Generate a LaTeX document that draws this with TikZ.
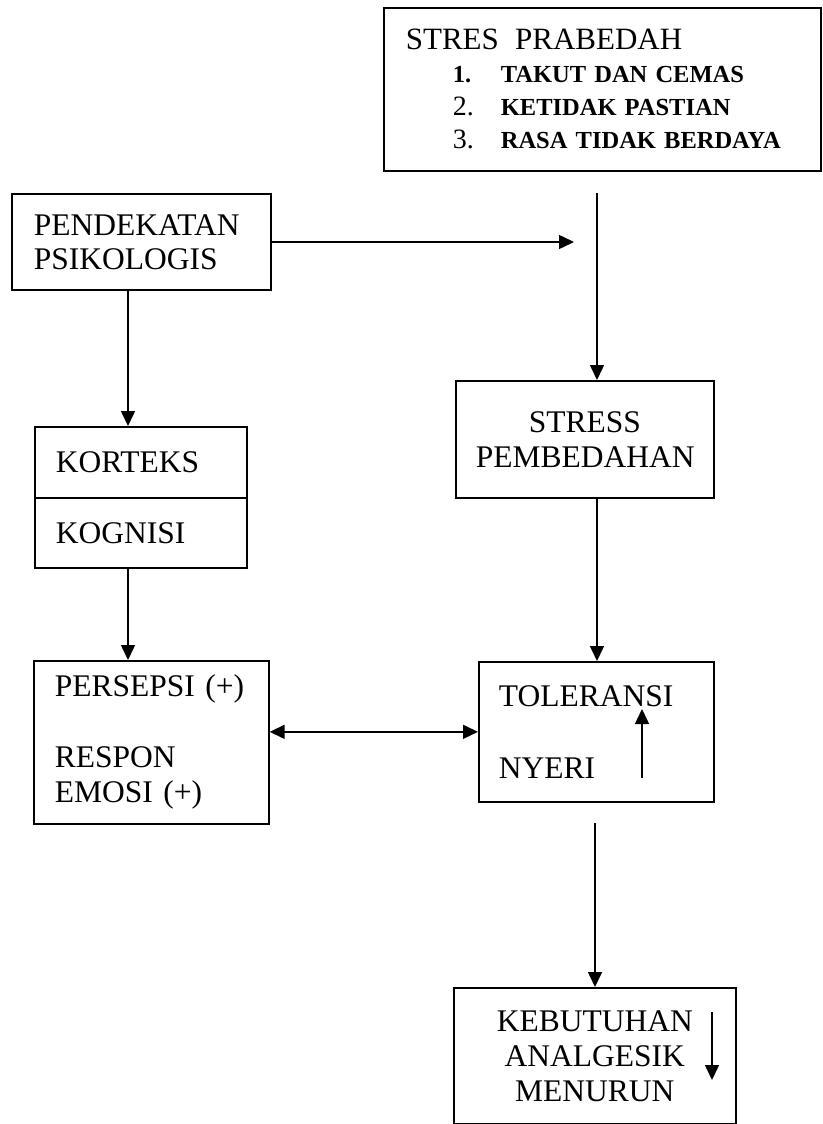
\documentclass[tikz,border=0pt]{standalone}
\usepackage{fontspec}
\setmainfont{Liberation Serif}
\usetikzlibrary{arrows.meta,positioning}

\begin{document}
\begin{tikzpicture}[
    x=1pt, y=-1pt,
    line width=1.5pt,
    >={Triangle[length=15pt,width=14pt]},
    every node/.style={draw, line width=1.7pt, anchor=north west, inner ysep=4pt, font=\fontsize{31.5}{35}\selectfont},
    leftbox/.style={align=left, inner xsep=21pt},
    midbox/.style={align=center, inner xsep=20pt}
]
\useasboundingbox (0,0) rectangle (822,1124);

% Stres prabedah
\node[leftbox, text width=393pt, inner xsep=22pt, minimum height=163pt,
      font=\fontsize{24.5}{33}\selectfont] (prabedah) at (383,7)
    {{\fontsize{31}{33}\selectfont STRES\ \ PRABEDAH}\\
     \hspace*{47pt}\makebox[48pt][l]{\bfseries 1.}\textbf{TAKUT DAN CEMAS}\\
     \hspace*{47pt}\makebox[48pt][l]{\fontsize{28}{33}\selectfont 2.}\textbf{KETIDAK PASTIAN}\\
     \hspace*{47pt}\makebox[48pt][l]{\fontsize{28}{33}\selectfont 3.}\textbf{RASA TIDAK BERDAYA}};

% Pendekatan psikologis
\node[leftbox, text width=215pt, inner xsep=22pt, minimum height=96pt,
      font=\fontsize{31.5}{34}\selectfont] (pendekatan) at (11,193) {PENDEKATAN\\PSIKOLOGIS};

% Korteks / kognisi
\node[leftbox, text width=170pt, minimum height=71pt] (korteks) at (34,426) {KORTEKS};
\node[leftbox, text width=170pt, minimum height=70pt, below=-1.7pt of korteks] (kognisi) {KOGNISI};

% Persepsi / respon emosi
\node[leftbox, text width=193pt, minimum height=163pt] (persepsi) at (33,660)
    {PERSEPSI (+)\\[36pt]RESPON\\EMOSI (+)};

% Stress pembedahan
\node[midbox, text width=218pt, minimum height=117pt] (stress) at (455,380) {STRESS\\PEMBEDAHAN\\[12pt]};

% Toleransi nyeri
\node[leftbox, text width=195pt, inner xsep=20pt, minimum height=140pt] (toleransi) at (478,661)
    {TOLERANSI\\[37pt]NYERI\\[12pt]};

% Kebutuhan analgesik
\node[midbox, text width=242pt, minimum height=136pt] (kebutuhan) at (453,987)
    {KEBUTUHAN\\ANALGESIK\\MENURUN};

% Free ends
\coordinate (lcol) at (128,0);
\coordinate (rtop) at (597,193);
\coordinate (head) at (574,242);
\coordinate (rlow) at (595,823);
\coordinate (up1) at (642,778);
\coordinate (up2) at (642,709);
\coordinate (down1) at (712,1012);
\coordinate (down2) at (712,1080);

% Connections
\draw[->] (pendekatan.east |- head) -- (head);
\draw[->] (rtop) -- (stress.north -| rtop);
\draw[->] (pendekatan.south -| lcol) -- (korteks.north -| lcol);
\draw[->] (kognisi.south -| lcol) -- (persepsi.north -| lcol);
\draw[->] (stress.south -| rtop) -- (toleransi.north -| rtop);
\draw[<->] (persepsi.east |- toleransi.west) -- (toleransi.west);
\draw[->] (rlow) -- (kebutuhan.north -| rlow);

\draw[->] (up1) -- (up2);
\draw[->] (down1) -- (down2);

\end{tikzpicture}
\end{document}
